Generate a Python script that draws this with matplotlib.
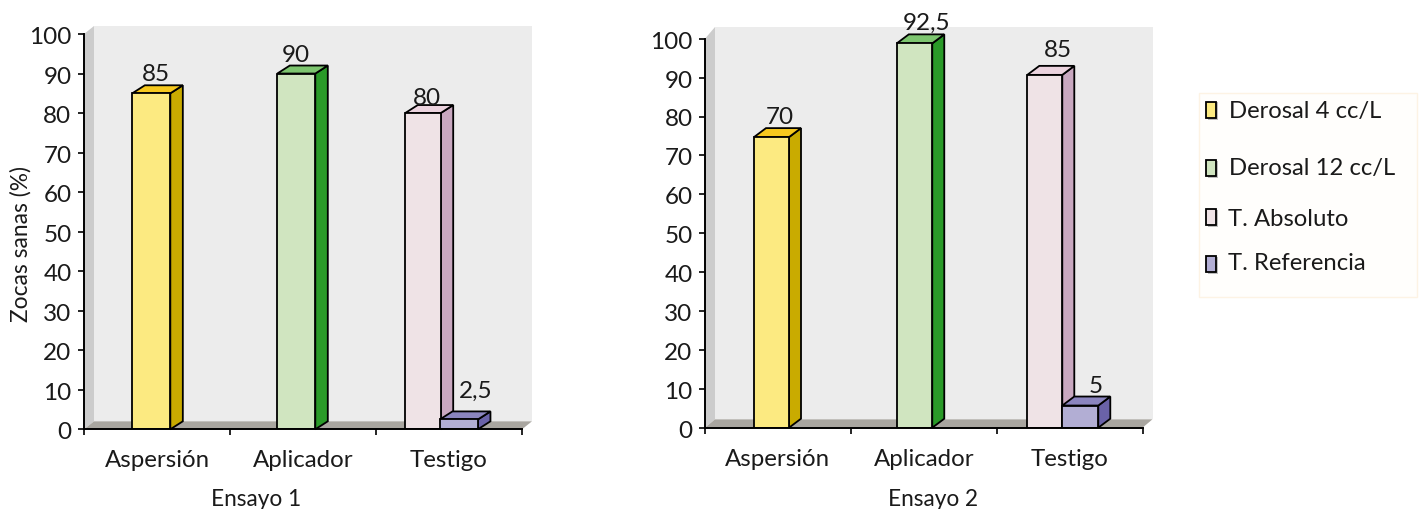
import matplotlib
matplotlib.use('Agg')
import matplotlib.pyplot as plt
from matplotlib.patches import Rectangle
from matplotlib.transforms import ScaledTranslation

W, H = 1421, 509

categorias = ['Aspersión', 'Aplicador', 'Testigo']
series = ['Derosal 4 cc/L', 'Derosal 12 cc/L', 'T. Absoluto', 'T. Referencia']

# una barra por tratamiento: grupo, serie, altura
grupo1 = [0, 1, 2, 2]
serie1 = [0, 1, 2, 3]
altura1 = [85, 90, 80, 2.5]
etiqueta1 = ['85', '90', '80', '2,5']

grupo2 = [0, 1, 2, 2]
serie2 = [0, 1, 2, 3]
# en el ensayo 2 las barras quedan mas altas que su rotulo
altura2 = [74.7, 98.8, 90.7, 5.7]
etiqueta2 = ['70', '92,5', '85', '5']

frente = ['#FCEA81', '#D0E5C0', '#EFE3E6', '#B2AED4']
lado = ['#C9AB00', '#2A9A28', '#C9A8C0', '#6A62A8']
techo = ['#F6C81E', '#7DC56F', '#EBD3DE', '#8B85BF']

plt.rcParams['font.family'] = ['Lato', 'DejaVu Sans']
plt.rcParams['font.size'] = 17.5
TXT = '#1a1a1a'


def make_axes(fig, x0, x1, ytop, ybot):
    return fig.add_axes([x0 / W, (H - ybot) / H, (x1 - x0) / W, (ybot - ytop) / H])


def panel(ax, grupo, serie, altura, etiqueta, x_rel, anchos_px, bar_d, wall_d, off, nombre, nombre_px):
    ax.set_xlim(-0.5, 2.5)
    ax.set_ylim(0, 100)
    ax.patch.set_visible(False)
    bbox = ax.get_position()
    px_x = bbox.width * W / 3
    px_y = bbox.height * H / 100
    wdx, wdy, wtop = wall_d[0] / px_x, wall_d[1] / px_y, wall_d[2]
    tope = 100 + wtop / px_y

    # paredes
    ax.fill([-0.5 + wdx, 2.5 + wdx, 2.5 + wdx, -0.5 + wdx], [wdy, wdy, tope, tope],
            color='#ECECEC', lw=0, zorder=1, clip_on=False)
    ax.fill([-0.5, -0.5 + wdx, -0.5 + wdx, -0.5], [0, wdy, tope, 100],
            color='#CCCCCC', lw=0, zorder=1, clip_on=False)
    ax.fill([-0.5, 2.5, 2.5 + wdx, -0.5 + wdx], [0, 0, wdy, wdy],
            color='#A9A6A0', lw=0, zorder=1, clip_on=False)

    dx, dy = bar_d[0] / px_x, bar_d[1] / px_y
    for i, v in enumerate(altura):
        s = serie[i]
        x = grupo[i] + x_rel[i]
        ancho = anchos_px[i] / px_x
        z = 3 + i
        ax.bar(x, v, width=ancho, align='edge', color=frente[s], edgecolor='black', lw=1.3, zorder=z + 0.5)
        ax.fill([x + ancho, x + ancho + dx, x + ancho + dx, x + ancho], [0, dy, v + dy, v],
                facecolor=lado[s], edgecolor='black', lw=1.3, zorder=z, clip_on=False)
        ax.fill([x, x + ancho, x + ancho + dx, x + dx], [v, v, v + dy, v + dy],
                facecolor=techo[s], edgecolor='black', lw=1.3, zorder=z, clip_on=False)
        ax.annotate(etiqueta[i], (x + ancho / 2, v), xytext=off[i], textcoords='offset pixels',
                    ha='center', va='center', color=TXT, zorder=20, annotation_clip=False)

    for k in ('top', 'right'):
        ax.spines[k].set_visible(False)
    for k in ('left', 'bottom'):
        ax.spines[k].set_linewidth(1.4)
        ax.spines[k].set_zorder(10)
    ax.set_yticks(range(0, 101, 10))
    ax.set_xticks([-0.5, 0.5, 1.5, 2.5])
    ax.set_xticklabels([])
    ax.set_xticks([0, 1, 2], minor=True)
    ax.set_xticklabels(categorias, minor=True, color=TXT, fontsize=17.3)
    ax.tick_params(axis='x', which='minor', length=0, pad=15)
    ax.tick_params(axis='x', which='major', length=4.5, width=1.2)
    ax.tick_params(axis='y', length=4.5, width=1.2, pad=4.5, labelcolor=TXT, labelsize=17.5)
    bajar = ScaledTranslation(0, -1.5 / 100, ax.figure.dpi_scale_trans)
    for t in ax.get_yticklabels():
        t.set_transform(t.get_transform() + bajar)
    ax.text(nombre_px[0] / W, (H - nombre_px[1]) / H, nombre, transform=ax.figure.transFigure,
            ha='center', va='center', fontsize=16.3, color=TXT)


fig = plt.figure(figsize=(W / 100, H / 100), dpi=100, facecolor='white')

ax1 = make_axes(fig, 84, 522, 34, 429.3)
panel(ax1, grupo1, serie1, altura1, etiqueta1,
      [-0.169, -0.176, -0.30, -0.062], [38, 38, 35.5, 38], (12.5, 8), (10, 8, 8),
      [(5, 19), (0, 18), (4, 15), (17, 28)], 'Ensayo 1', (256, 500))
ax1.set_ylabel('Zocas sanas (%)', fontsize=16.4, color=TXT)
ax1.yaxis.set_label_coords((32 - 84) / 438, 0.47)

ax2 = make_axes(fig, 705, 1142.5, 38.7, 427.7)
panel(ax2, grupo2, serie2, altura2, etiqueta2,
      [-0.164, -0.185, -0.29, -0.05], [35, 35.5, 35, 36], (12, 9), (10, 8.4, 11.7),
      [(8, 20), (12, 20), (13, 24), (15, 19)], 'Ensayo 2', (933, 499))

# leyenda
fig.add_artist(Rectangle((1199 / W, (H - 297) / H), 218 / W, 204 / H, transform=fig.transFigure,
                         facecolor='#FFFEFC', edgecolor='#FDF3E4', lw=1))
leg_y = [109.5, 168, 217, 263.5]
txt_y = [111.5, 169, 220, 263.5]
leg_x = [1229, 1229, 1228, 1228]
for i, nombre in enumerate(series):
    fig.add_artist(Rectangle((1208 / W, (H - leg_y[i] - 10) / H), 10 / W, 17 / H, transform=fig.transFigure,
                             facecolor='#BDBDBD', edgecolor='none'))
    fig.add_artist(Rectangle((1206 / W, (H - leg_y[i] - 8) / H), 10 / W, 16 / H, transform=fig.transFigure,
                             facecolor=frente[i], edgecolor='black', lw=1.3))
    fig.text(leg_x[i] / W, (H - txt_y[i]) / H, nombre, ha='left', va='center', color=TXT, fontsize=17.2)

fig.savefig('out.png', dpi=100)
